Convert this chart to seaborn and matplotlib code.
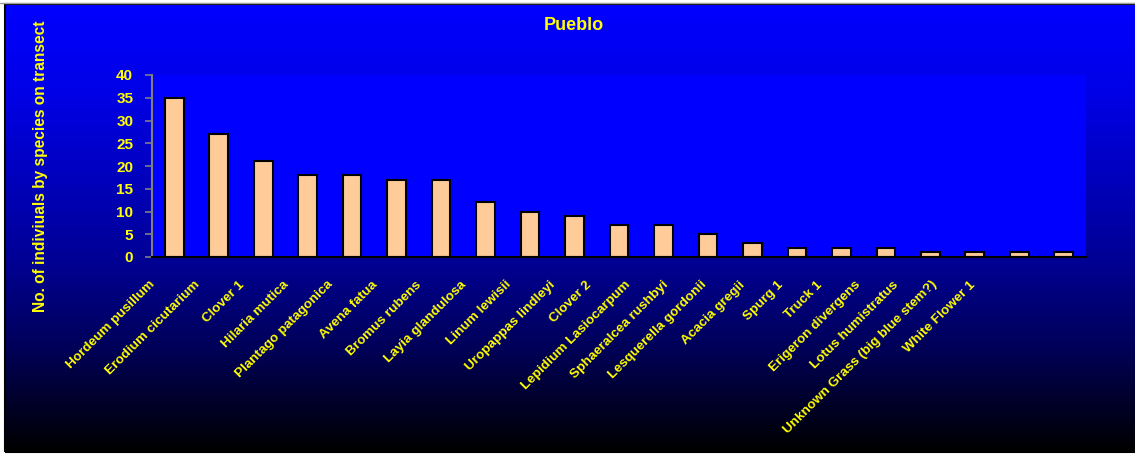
import numpy as np
import matplotlib
matplotlib.use("Agg")
import matplotlib.pyplot as plt
import matplotlib.transforms as mtransforms
from matplotlib.colors import LinearSegmentedColormap
from matplotlib.patches import Rectangle
from matplotlib.lines import Line2D
import seaborn as sns

# Plant counts along the Pueblo transect
species = [
    "Hordeum pusillum", "Erodium cicutarium", "Clover 1", "Hilaria mutica",
    "Plantago patagonica", "Avena fatua", "Bromus rubens", "Layia glandulosa",
    "Linum lewisii", "Uropappas lindleyi", "Clover 2", "Lepidium Lasiocarpum",
    "Sphaeralcea rushbyi", "Lesquerella gordonii", "Acacia gregii", "Spurg 1",
    "Truck 1", "Erigeron divergens", "Lotus humistratus",
    "Unknown Grass (big blue stem?)", "White Flower 1",
]
counts = [35, 27, 21, 18, 18, 17, 17, 12, 10, 9, 7, 7, 5, 3, 2, 2, 2, 1, 1, 1, 1]
yticks = [0, 5, 10, 15, 20, 25, 30, 35, 40]

title = "Pueblo"
ylabel = "No. of indiviuals by species on transect"

sns.set_theme(style="white")
plt.rcParams["font.family"] = ["Liberation Sans", "DejaVu Sans"]
plt.rcParams["font.weight"] = "bold"

YELLOW = "#FFFF00"
W, H = 1135, 454
fig = plt.figure(figsize=(W / 100, H / 100), dpi=100)
fig.patch.set_facecolor("white")

# Backdrop: vertical blue-to-black gradient inside a thin frame
bg = fig.add_axes([5 / W, 2 / H, 1 - 5 / W + 0.01, 448 / H])
bg.set_axis_off()
grad_cmap = LinearSegmentedColormap.from_list(
    "backdrop",
    [(0.0, "#0000FF"), (0.21, "#0000E4"), (0.565, "#000096"),
     (0.77, "#000058"), (1.0, "#000000")],
)
grad = np.linspace(0, 1, 448).reshape(-1, 1)
bg.imshow(grad, aspect="auto", cmap=grad_cmap, extent=[0, 1, 0, 1],
          interpolation="bilinear")
bg.set_xlim(0, 1)
bg.set_ylim(0, 1)
fig.patches.append(Rectangle((5 / W, 2 / H), 1.0, 448 / H, transform=fig.transFigure,
                             fill=False, edgecolor="black", linewidth=1.5, zorder=5))
fig.lines.append(Line2D([0, 1], [1 - 2.5 / H, 1 - 2.5 / H], transform=fig.transFigure,
                        color="#A0A0A0", linewidth=1.0, zorder=6))

# Plot area
ax = fig.add_axes([152 / W, 1 - 257 / H, (1086 - 152) / W, (257 - 75) / H])
ax.set_facecolor("#0000FF")
sns.barplot(x=species, y=counts, color="#FFCC99", saturation=1,
            edgecolor="black", linewidth=1.5, width=0.42, ax=ax)
ax.set_ylim(0, 40)
ax.set_yticks(yticks)
ax.set_xlim(-0.5, len(species) - 0.5)
ax.set_xlabel("")
ax.set_ylabel("")

for side in ("top", "right"):
    ax.spines[side].set_visible(False)
ax.spines["left"].set_color("#808080")
ax.spines["left"].set_linewidth(1.5)
ax.spines["bottom"].set_color("black")
ax.spines["bottom"].set_linewidth(1.5)

ax.tick_params(axis="y", direction="out", length=5, width=1.2, color="#808080",
               labelcolor=YELLOW, labelsize=11, pad=8.5, left=True)
ax.tick_params(axis="x", length=0, pad=0, labelcolor=YELLOW, labelsize=9.7)
for lbl in ax.get_yticklabels():
    lbl.set_fontweight("bold")

# Slanted category labels; the label row is laid out slightly tighter
# than the bar slots, so the right-hand labels drift to the left.
for i, lbl in enumerate(ax.get_xticklabels()):
    dx_px = -19 if i < 10 else -27 - 6.1 * (i - 10)
    shift = mtransforms.ScaledTranslation(dx_px / 100, -0.28, fig.dpi_scale_trans)
    lbl.set_rotation(45)
    lbl.set_ha("right")
    lbl.set_va("baseline")
    lbl.set_rotation_mode("anchor")
    lbl.set_fontweight("bold")
    lbl.set_transform(lbl.get_transform() + shift)

fig.text(574 / W, 1 - 25 / H, title, ha="center", va="center", color=YELLOW,
         fontsize=13, fontweight="bold")
fig.text(40 / W, 1 - 166 / H, ylabel, rotation=90, ha="center", va="center",
         color=YELLOW, fontsize=11.2, fontweight="bold")

fig.savefig("out.png", dpi=100, facecolor=fig.get_facecolor())
